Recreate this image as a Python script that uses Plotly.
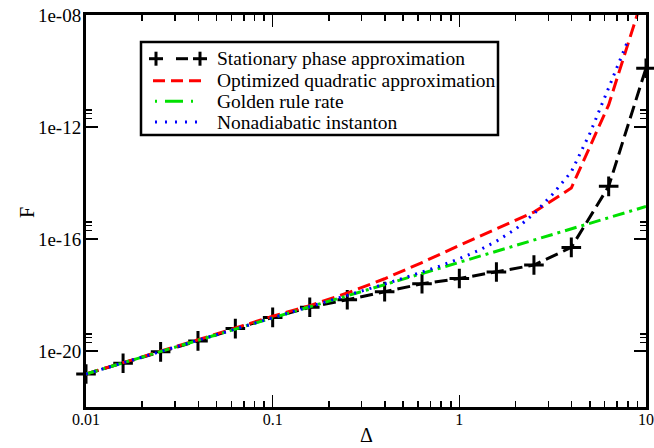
import plotly.graph_objects as go

# Data (log10 values)
x_grid = [0.01, 0.0158, 0.0251, 0.0398, 0.0631, 0.1, 0.158, 0.251, 0.398, 0.631,
          1.0, 1.58, 2.51, 3.98, 6.31, 10.0]
logF_stationary = [-20.82, -20.44, -20.03, -19.64, -19.20, -18.80, -18.44, -18.17,
                   -17.88, -17.60, -17.41, -17.18, -16.93, -16.30, -14.12, -9.90]
logF_quadratic = [-20.82, -20.42, -20.02, -19.60, -19.18, -18.76, -18.38, -17.93,
                  -17.42, -16.84, -16.23, -15.64, -15.04, -14.18, -11.21, -7.00]
logF_golden = [-20.82, -20.42, -20.02, -19.62, -19.22, -18.82, -18.42, -18.03,
               -17.63, -17.23, -16.83, -16.44, -16.04, -15.64, -15.24, -14.84]

x_inst = [0.01, 0.0126, 0.0158, 0.02, 0.0251, 0.0316, 0.0398, 0.0501, 0.0631, 0.0794,
          0.1, 0.126, 0.158, 0.2, 0.251, 0.316, 0.398, 0.501, 0.631, 0.794,
          1.0, 1.26, 1.58, 2.0, 2.51, 3.16, 3.98, 5.01, 6.31, 7.94]
logF_inst = [-20.82, -20.62, -20.42, -20.22, -20.02, -19.82, -19.62, -19.42, -19.22, -19.02,
             -18.82, -18.62, -18.42, -18.22, -18.02, -17.81, -17.61, -17.40, -17.19, -16.96,
             -16.70, -16.42, -16.08, -15.65, -15.10, -14.40, -13.60, -12.22, -10.60, -8.97]

names = ["Stationary phase approximation", "Optimized quadratic approximation",
         "Golden rule rate", "Nonadiabatic instanton"]
colors = ["black", "#ff0000", "#00e000", "#0000ff"]

x_tickvals = [0.01, 0.1, 1, 10]
x_ticktext = ["0.01", "0.1", "1", "10"]
y_tickvals = [1e-20, 1e-16, 1e-12, 1e-8]
y_ticktext = ["1e-20", "1e-16", "1e-12", "1e-08"]

x_minor = [m * d for d in (0.01, 0.1, 1) for m in range(2, 10)]
y_minor = [m * d for d in (1e-20, 1e-16, 1e-12) for m in (2, 3, 4)]


def pw(v):
    return [10 ** a for a in v]


FONT = "Liberation Serif, Times New Roman, serif"

W, H = 654, 448
ML, MR, MT, MB = 86, 8, 15, 41
PW, PH = W - ML - MR, H - MT - MB


def px(xs):  # figure px -> paper x
    return (xs - ML) / PW


def py(ys):  # figure px -> paper y
    return (H - MB - ys) / PH


fig = go.Figure()
fig.add_trace(go.Scatter(
    x=x_grid, y=pw(logF_stationary), name=names[0], mode="lines+markers",
    line=dict(color=colors[0], width=3, dash="13px,6px"),
    marker=dict(symbol="cross-thin", size=14, line=dict(color=colors[0], width=3)),
    cliponaxis=False))
fig.add_trace(go.Scatter(
    x=x_grid, y=pw(logF_quadratic), name=names[1], mode="lines",
    line=dict(color=colors[1], width=3, dash="13px,6px")))
fig.add_trace(go.Scatter(
    x=x_grid, y=pw(logF_golden), name=names[2], mode="lines",
    line=dict(color=colors[2], width=3, dash="12px,5px,3px,5px")))
fig.add_trace(go.Scatter(
    x=x_inst, y=pw(logF_inst), name=names[3], mode="lines",
    line=dict(color=colors[3], width=3, dash="2px,6px")))

axis_common = dict(showgrid=False, zeroline=False, showline=True, linecolor="black",
                   linewidth=3, mirror="allticks", ticks="inside", ticklen=12,
                   tickwidth=1.5, tickcolor="black", ticklabeloverflow="allow",
                   automargin=False)

fig.update_xaxes(type="log", range=[-2, 1], tickmode="array", tickvals=x_tickvals,
                 ticktext=x_ticktext, tickfont=dict(family=FONT, size=16, color="black"),
                 ticklabelstandoff=-4,
                 minor=dict(tickmode="array", tickvals=x_minor, ticks="inside", ticklen=6,
                            tickwidth=1.5, tickcolor="black"),
                 **axis_common)
fig.update_yaxes(type="log", range=[-22, -8], tickmode="array", tickvals=y_tickvals,
                 ticktext=y_ticktext, tickfont=dict(family=FONT, size=19, color="black"),
                 ticklabelstandoff=-2,
                 minor=dict(tickmode="array", tickvals=y_minor, ticks="inside", ticklen=6,
                            tickwidth=1.5, tickcolor="black"),
                 **axis_common)

# Custom legend (box, samples, labels) in paper coordinates
shapes = [dict(type="rect", xref="paper", yref="paper",
               x0=px(141), x1=px(498), y0=py(135), y1=py(42),
               line=dict(color="black", width=2.5), fillcolor="white", layer="above")]
rows = [58.7, 80.7, 101.3, 122.0]


def seg(x0, x1, y0, y1, color, width=3, dash="solid"):
    return dict(type="line", xref="paper", yref="paper", x0=px(x0), x1=px(x1),
                y0=py(y0), y1=py(y1), line=dict(color=color, width=width, dash=dash),
                layer="above")


# black: + — +
r = rows[0]
for cx in (156, 200):
    shapes.append(seg(cx - 7, cx + 7, r, r, colors[0]))
    shapes.append(seg(cx, cx, r - 7, r + 7, colors[0]))
shapes.append(seg(176, 188, r, r, colors[0]))
shapes.append(seg(153, 201, rows[1], rows[1], colors[1], dash="12px,6px"))
shapes.append(seg(155, 194, rows[2], rows[2], colors[2], dash="2px,8px,18px,8px,2px,100px"))
shapes.append(seg(155, 200, rows[3], rows[3], colors[3], dash="2px,8px"))

annotations = [dict(text=n, xref="paper", yref="paper", x=px(214.5), y=py(rr),
                    xanchor="left", yanchor="middle", showarrow=False,
                    font=dict(family=FONT, size=19.5, color="black"))
               for n, rr in zip(names, rows)]
annotations += [
    dict(text="F", xref="paper", yref="paper", x=px(27), y=py(213), showarrow=False,
         textangle=-90, font=dict(family=FONT, size=20, color="black"),
         xanchor="center", yanchor="middle"),
    dict(text="Δ", xref="paper", yref="paper", x=px(366), y=py(435), showarrow=False,
         font=dict(family=FONT, size=20, color="black"),
         xanchor="center", yanchor="middle"),
]

fig.update_layout(
    width=W, height=H,
    margin=dict(l=ML, r=MR, t=MT, b=MB, autoexpand=False),
    paper_bgcolor="white", plot_bgcolor="white",
    font=dict(family=FONT, color="black"),
    showlegend=False,
    hovermode=False,
    shapes=shapes,
    annotations=annotations,
)

# remove the default 8px page margin so the figure fills the window exactly
fig.write_html("out.html", config={"displayModeBar": False, "staticPlot": True},
               post_script="document.body.style.margin='0';")
